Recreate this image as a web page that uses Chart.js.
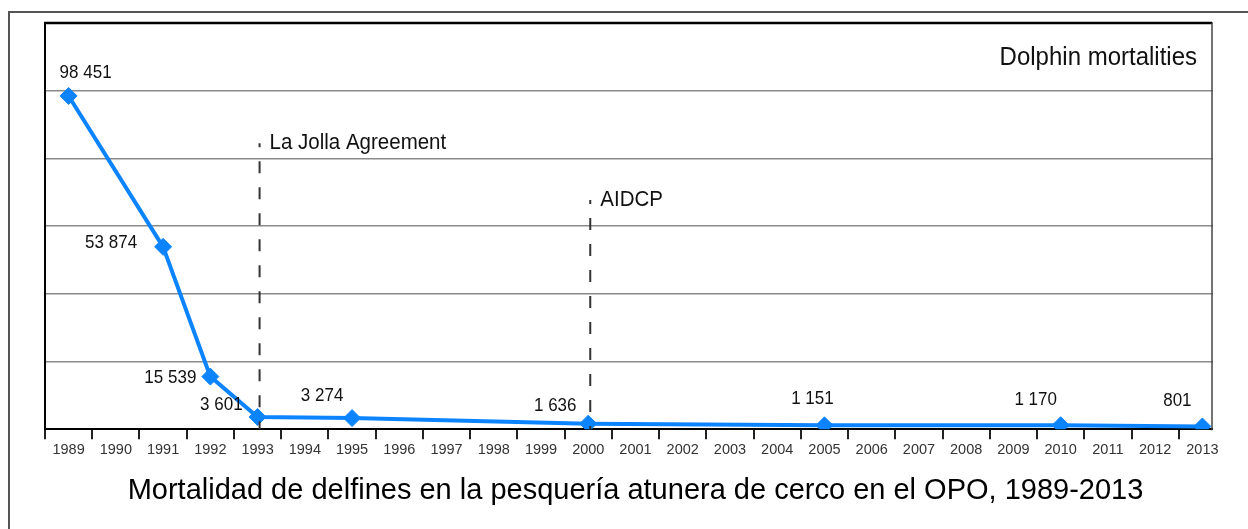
<!DOCTYPE html>
<html>
<head>
<meta charset="utf-8">
<script src="https://cdn.jsdelivr.net/npm/chart.js@4/dist/chart.umd.min.js"></script>
<style>
  html, body { margin: 0; padding: 0; background: #fff; }
  canvas { display: block; }
</style>
</head>
<body>
<canvas id="dolphins" width="1248" height="529"></canvas>
<script>
const years = ['1989', '1990', '1991', '1992', '1993', '1994', '1995', '1996', '1997', '1998',
  '1999', '2000', '2001', '2002', '2003', '2004', '2005', '2006', '2007', '2008',
  '2009', '2010', '2011', '2012', '2013']
// only the surveyed years carry a value, the line spans the gaps
const mortality = [98451, null, 53874, 15539, 3601, null, 3274, null, null, null,
  null, 1636, null, null, null, null, 1151, null, null, null,
  null, 1170, null, null, 801]
const events = ['1993', '2000']
const eventLabels = ['La Jolla Agreement', 'AIDCP']
const eventLevels = [84500, 67700]
const seriesName = 'Dolphin mortalities'
const chartTitle = 'Mortalidad de delfines en la pesquería atunera de cerco en el OPO, 1989-2013'

const FONT = '"Liberation Sans", Arial, sans-serif'
const BLUE = '#0d84ff'

const formatValue = v => String(v).replace(/\B(?=(\d{3})+(?!\d))/g, ' ')

// source text is a little taller than Arial, stretch it a bit
function tallText (ctx, text, x, y, stretch) {
  ctx.save()
  ctx.translate(x, y)
  ctx.scale(1, stretch)
  ctx.fillText(text, 0, 0)
  ctx.restore()
}

const framePlugin = {
  id: 'frame',
  beforeDraw (chart) {
    const ctx = chart.ctx
    ctx.save()
    ctx.strokeStyle = '#555'
    ctx.lineWidth = 2
    ctx.beginPath()
    ctx.moveTo(9, chart.height)
    ctx.lineTo(9, 12)
    ctx.lineTo(chart.width, 12)
    ctx.stroke()
    ctx.restore()
  },
  beforeDatasetsDraw (chart) {
    const { ctx, chartArea: a } = chart
    const right = a.right - 14
    ctx.save()
    // the last year is cut by the frame, as in the source
    ctx.fillStyle = '#fff'
    ctx.fillRect(right + 1, a.top - 3, a.right - right + 2, a.bottom - a.top + 14)
    ctx.strokeStyle = '#000'
    ctx.lineWidth = 2.5
    ctx.beginPath()
    ctx.moveTo(a.left - 1, a.top)
    ctx.lineTo(right, a.top)
    ctx.stroke()
    ctx.strokeStyle = '#444'
    ctx.lineWidth = 1.5
    ctx.beginPath()
    ctx.moveTo(right, a.top)
    ctx.lineTo(right, a.bottom + 1)
    ctx.stroke()
    ctx.fillStyle = '#111'
    ctx.font = '24px ' + FONT
    ctx.textAlign = 'right'
    ctx.textBaseline = 'middle'
    tallText(ctx, seriesName, right - 15, a.top + 35, 1.08)
    ctx.restore()
  }
}

const eventPlugin = {
  id: 'events',
  afterDatasetsDraw (chart) {
    const { ctx, chartArea: a, scales: { x, y } } = chart
    ctx.save()
    events.forEach((year, i) => {
      const px = x.getPixelForValue(years.indexOf(year)) + 2
      const py = y.getPixelForValue(eventLevels[i])
      ctx.strokeStyle = '#333'
      ctx.lineWidth = 2
      ctx.setLineDash([12, 14])
      ctx.lineDashOffset = 8
      ctx.beginPath()
      ctx.moveTo(px, py)
      ctx.lineTo(px, a.bottom)
      ctx.stroke()
      ctx.setLineDash([])
      ctx.fillStyle = '#111'
      ctx.font = '20.5px ' + FONT
      ctx.textAlign = 'left'
      ctx.textBaseline = 'middle'
      tallText(ctx, eventLabels[i], px + 10, py, 1.08)
    })
    ctx.restore()
  }
}

// dx, dy, align for each printed value
const labelPlacement = {
  0: [17, -23, 'center'],
  2: [-26, -4, 'right'],
  3: [-14, 1, 'right'],
  4: [-15, -12, 'right'],
  6: [-30, -22, 'center'],
  11: [-33, -18, 'center'],
  16: [-12, -27, 'center'],
  21: [-25, -25, 'center'],
  24: [-25, -26, 'center']
}

const valueLabelPlugin = {
  id: 'valueLabels',
  afterDatasetsDraw (chart) {
    const ctx = chart.ctx
    const meta = chart.getDatasetMeta(0)
    ctx.save()
    ctx.fillStyle = '#111'
    ctx.font = '17px ' + FONT
    ctx.textBaseline = 'middle'
    meta.data.forEach((pt, i) => {
      const v = mortality[i]
      if (v == null) return
      const [dx, dy, align] = labelPlacement[i] || [0, -20, 'center']
      ctx.textAlign = align
      tallText(ctx, formatValue(v), pt.x + dx, pt.y + dy, 1.12)
    })
    ctx.restore()
  }
}

new Chart(document.getElementById('dolphins'), {
  type: 'line',
  data: {
    labels: years,
    datasets: [{
      label: seriesName,
      data: mortality,
      spanGaps: true,
      borderColor: BLUE,
      backgroundColor: BLUE,
      borderWidth: 4,
      pointStyle: 'rectRot',
      pointRadius: 8.5,
      pointBorderWidth: 1,
      tension: 0
    }]
  },
  options: {
    responsive: false,
    animation: false,
    devicePixelRatio: 1,
    layout: { padding: { left: 45, top: 23, right: 22, bottom: 0 } },
    plugins: {
      legend: { display: false },
      tooltip: { enabled: false },
      title: {
        display: true,
        position: 'bottom',
        text: chartTitle,
        color: '#000',
        font: { family: FONT, size: 29, weight: 'normal' },
        padding: { top: 8, bottom: 21 }
      }
    },
    scales: {
      x: {
        offset: true,
        grid: { offset: true, drawOnChartArea: false, tickLength: 10, color: '#222', lineWidth: 2 },
        border: { color: '#000', width: 2 },
        ticks: { color: '#333', font: { family: FONT, size: 14.5 }, padding: 2, autoSkip: false, maxRotation: 0 },
        afterFit: s => { s.height = 36 }
      },
      y: {
        min: 0,
        max: 120000,
        ticks: { display: false, stepSize: 20000 },
        grid: { color: '#8a8a8a', lineWidth: 1.5, drawTicks: false },
        border: { color: '#000', width: 2 },
        afterFit: s => { s.width = 0 }
      }
    }
  },
  plugins: [framePlugin, eventPlugin, valueLabelPlugin]
})
</script>
</body>
</html>
